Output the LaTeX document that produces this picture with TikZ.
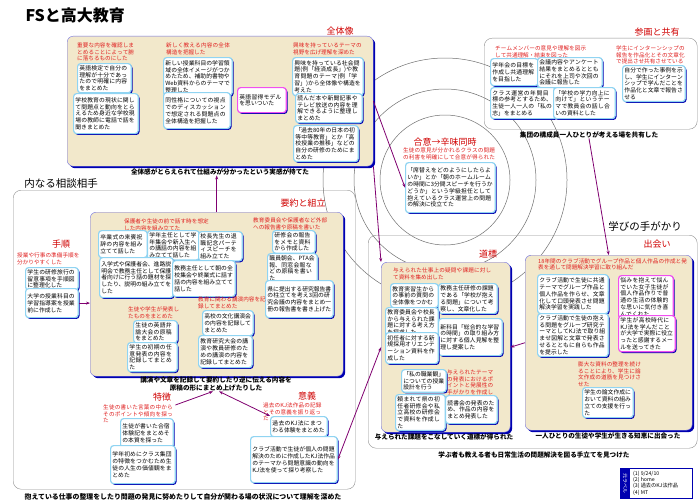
\documentclass[tikz,border=0pt]{standalone}
\usepackage{fontspec}
\setmainfont{Noto Sans CJK JP}
\usetikzlibrary{arrows.meta, shadows}
\XeTeXlinebreaklocale "ja"
\XeTeXlinebreakskip=0pt plus 1pt

\definecolor{beige}{HTML}{F2E8CB}
\definecolor{groupedge}{HTML}{7070E0}
\definecolor{shadowblue}{HTML}{0000B0}
\definecolor{cardedge}{HTML}{90D4F2}
\definecolor{pinkedge}{HTML}{F050F0}
\definecolor{notered}{HTML}{E02020}
\definecolor{headred}{HTML}{D00000}
\definecolor{linkpurple}{HTML}{800070}
\definecolor{framegray}{HTML}{909090}
\definecolor{ringgray}{HTML}{707070}

\newcommand\cardfont{\fontsize{5.8}{6.8}\selectfont}
\newcommand\notefont{\fontsize{5.6}{6.4}\selectfont}
\newcommand\headfont{\fontsize{9}{10}\selectfont}
\newcommand\capfont{\fontsize{10.5}{12}\selectfont}
\newcommand\sumfont{\fontsize{6.6}{8}\selectfont\bfseries}
\newcommand\titlefont{\fontsize{16}{18}\selectfont\bfseries}

\begin{document}
\begin{tikzpicture}[x=1pt,y=-1pt,
    card/.style={draw=cardedge, line width=1.2pt, fill=white, rounded corners=3pt,
        inner sep=1.8pt, anchor=north west, align=left, font=\cardfont,
        drop shadow={shadow xshift=1.3pt, shadow yshift=-1.3pt, fill=shadowblue, opacity=1}},
    pinkcard/.style={card, draw=pinkedge},
    note/.style={text=notered, anchor=north west, align=left, inner sep=0pt, font=\notefont},
    heading/.style={text=headred, font=\headfont, inner sep=0pt},
    bigcaption/.style={font=\capfont, inner sep=0pt},
    summary/.style={font=\sumfont, inner sep=0pt, align=center},
    group/.style={draw=groupedge, fill=beige, rounded corners=6pt, anchor=north west, inner sep=0pt,
        drop shadow={shadow xshift=2pt, shadow yshift=-2pt, fill=shadowblue, opacity=1}},
    frame/.style={draw=framegray, rounded corners=8pt, anchor=north west, inner sep=0pt},
    link/.style={draw=linkpurple, line width=0.8pt, -{Stealth[length=4pt]}},
    ring/.style={draw=ringgray, line width=0.5pt}
]

\fill[white] (0,0) rectangle (700,503);
\useasboundingbox (0,0) rectangle (700,503);

\node[anchor=west, font=\titlefont] (title) at (22,15) {FSと高大教育};

% rings
\foreach \r in {65,91,122}
    \draw[ring] (445,180) circle[radius=\r pt];

% =========================
% frames
% =========================
\node[frame, minimum width=213pt, minimum height=91pt] (share) at (484,38) {};
\node[heading] (sharehead) at (657,32) {参画と共有};
\node[summary] (sharesum) at (589,135) {集団の構成員一人ひとりが考える場を共有した};

\node[frame, minimum width=342pt, minimum height=299pt] (inner) at (13,190) {};
\node[bigcaption] (innerhead) at (61,184) {内なる相談相手};
\node[summary, font=\fontsize{6.9}{8}\selectfont\bfseries] (innersum) at (183,497) {抱えている仕事の整理をしたり問題の発見に努めたりして自分が関わる場の状況について理解を深めた};

\node[frame, minimum width=329pt, minimum height=213pt] (learn) at (368,235) {};
\node[bigcaption] (learnhead) at (645,226) {学びの手がかり};
\node[summary] (learnsum) at (534,455) {学ぶ者も教える者も日常生活の問題解決を図る手立てを見つけた};

% =========================
% 全体像
% =========================
\node[group, minimum width=306pt, minimum height=130pt] (whole) at (67,36) {};
\node[heading] (wholehead) at (340,31) {全体像};
\node[summary] (wholesum) at (220,172) {全体感がとらえられて仕組みが分かったという実感が持てた};

\node[note, text width=58pt] (n1) at (77,43) {重要な内容を確認しまとめることによって腑に落ちるものにした};
\node[card, text width=50pt, minimum height=29pt] (a1) at (77,63) {英語検定で自分の理解が十分であったので明確に内容をまとめた};
\node[card, text width=61pt, minimum height=40pt] (a2) at (73,93) {学校教育の現状に関して問題点と動向をとらえるため身近な学校現場の教師に電話で話を聞きまとめた};

\node[note, text width=66pt] (n2) at (166,43) {新しく教える内容の全体構造を把握した};
\node[card, text width=65pt, minimum height=38pt] (b1) at (163,57) {新しい授業科目の学習領域の全体イメージがつかめたため、補助的書物やWeb資料からのテーマで整理した};
\node[card, text width=63pt, minimum height=36pt] (b2) at (163,92) {同性格についての視点でのディスカッションで想定される問題点の全体構造を把握した};

\node[pinkcard, text width=45pt, minimum height=25pt] (p1) at (237,87) {英語習得モデルを思いついた};

\node[note, text width=70pt] (n3) at (293,43) {興味を持っているテーマの視野を広げ理解を深めた};
\node[card, text width=67pt, minimum height=38pt] (c1) at (292,57) {興味を持っている社会問題(例「経済成長」)や教育問題のテーマ(例「学習」)から全体像や構造を考えた};
\node[card, text width=63pt, minimum height=29pt] (c2) at (295,93) {読んだ本や新聞記事やテレビ放送の内容を理解できるように整理しまとめた};
\node[card, text width=61pt, minimum height=35pt] (c3) at (293,125) {「過去80年の日本の初等中等教育」とか「高校授業の推移」などの自分の研修のためにまとめた};

% =========================
% 参画と共有
% =========================
\node[note, text width=92pt] (n4) at (495,46) {チームメンバーの意見や理解を図示して共通理解・結束を図った};
\node[card, text width=44pt, minimum height=27pt] (d1) at (490,58) {学年会の目標を作成し共通理解を目指した};
\node[card, text width=61pt, minimum height=30pt] (d2) at (537,57) {会議内容やアンケート結果をまとめるとともにそれを上司や次回の会議に報告した};
\node[card, text width=62pt, minimum height=31pt] (d3) at (490,87) {クラス運営の年間目標の参考とするため、生徒一人一人の「私の志」をまとめる};
\node[card, text width=58pt, minimum height=31pt] (d4) at (553,87) {「学校の学力向上に向けて」というテーマで教員会の話し合いの資料とした};
\node[note, text width=70pt] (n5) at (616,46) {学生にインターンシップの報告を作品化とその文章化で提出させ共有させている};
\node[card, text width=59pt, minimum height=35pt] (e1) at (622,65) {自分で作った事例を示し、学生にインターンシップで学んだことを作品化と文章で報告させる};

% =========================
% 合意
% =========================
\node[heading] (agreehead) at (445,142) {合意→辛味同時};
\node[note, text width=95pt, align=center, anchor=north] (n6) at (449,148) {生徒の意見が分かれるクラスの問題の利害を明確にして合意が得られた};
\node[card, text width=86pt, minimum height=50pt] (f1) at (405,162) {「席替えをどのようにしたらよいか」とか「朝のホームルームの時間に3分間スピーチを行うかどうか」という学級担任として抱えているクラス運営上の問題の解決に役立てた};

% =========================
% 要約と組立
% =========================
\node[group, minimum width=253pt, minimum height=164pt] (sum) at (90,212) {};
\node[heading] (sumhead) at (303,203) {要約と組立};
\node[summary] (sumsum) at (216,384) {講演や文章を記録して要約したり逆に伝える内容を\\原稿の形にまとめ上げたりした};

\node[note, text width=85pt] (n7) at (124,219) {保護者や生徒の前で話す時を想定した内容を組み立てた};
\node[card, text width=45pt, minimum height=27pt] (ga) at (98,230) {卒業式の来賓祝辞の内容を組み立てて話した};
\node[card, text width=48pt, minimum height=28pt] (gb) at (147,230) {学年主任として学年集会や新入生への講話の内容を組み立てて話した};
\node[card, text width=40pt, minimum height=26pt] (gc) at (198,231) {校長先生の退職記念パーティスピーチを組み立てた};
\node[card, text width=70pt, minimum height=40pt] (gd) at (99,257) {入学式や保護者会、進路説明会で教務主任として保護者向けに行う話の題材を探したり、説明の組み立てをした};
\node[card, text width=59pt, minimum height=36pt] (ge) at (172,260) {教務主任として朝の全校集会や終業式に話す話の内容を組み立てて話した};

\node[note, text width=75pt] (n8) at (253,218) {教育委員会や保護者など外部への報告書や原稿を書いた};
\node[card, text width=39pt, minimum height=22pt] (gf) at (272,230) {研修会の報告をメモと資料から作成した};
\node[card, text width=46pt, minimum height=25pt] (gg) at (267,253) {職員朝会、PTA会報、同窓会報などの原稿を書いた};
\node[card, text width=64pt, minimum height=37pt] (gh) at (265,280) {県に提出する研究報告書の柱立てを考え3回の研究会議の内容をまとめ一冊の報告書を書き上げた};

\node[note, text width=68pt] (n9) at (198,297) {教育に関わる講演内容を記録してまとめた};
\node[card, text width=47pt, minimum height=25pt] (gi) at (202,310) {高校の文化講演会の内容を記録してまとめた};
\node[card, text width=50pt, minimum height=32pt] (gj) at (198,335) {教育研究大会の講演や教員研修のための講演の内容を記録してまとめた};

\node[note, text width=52pt] (n10) at (128,307) {生徒や学生が発表したものをまとめた};
\node[card, text width=40pt, minimum height=21pt] (gk) at (133,320) {生徒の英語弁論大会の原稿をまとめた};
\node[card, text width=46pt, minimum height=24pt] (gl) at (127,342) {学生の初期の任意発表の内容を記録してまとめた};

% =========================
% 手順
% =========================
\node[heading] (stephead) at (61,244) {手順};
\node[note, text width=63pt] (n11) at (17,253) {授業や行事の準備手順を分かりやすくした};
\node[card, text width=49pt, minimum height=22pt] (ha) at (25,267) {学生の研修旅行の留意事項を手順図に整理化した};
\node[card, text width=49pt, minimum height=29pt] (hb) at (25,288) {大学の授業科目の学習指導案を授業前に作成した};

% =========================
% 特徴
% =========================
\node[heading] (traithead) at (162,397) {特徴};
\node[note, text width=72pt] (n12) at (103,405) {生徒の書いた言葉の中からそのポイントや傾向を探った};
\node[card, text width=49pt, minimum height=29pt] (ia) at (120,418) {生徒が書いた合宿体験記をまとめその本質を探った};
\node[card, text width=61pt, minimum height=38pt] (ib) at (110,445) {学年初めにクラス集団の特徴をつかむため生徒の人生の価値観をまとめた};

% =========================
% 意義
% =========================
\node[heading] (meanhead) at (307,396) {意義};
\node[note, text width=60pt] (n13) at (263,403) {過去のKJ法作品の記録とその意義を振り返った};
\node[card, text width=53pt, minimum height=20pt] (ja) at (270,416) {過去のKJ法にまつわる体験をまとめた};
\node[card, text width=83pt, minimum height=46pt] (jb) at (250,436) {クラブ活動で生徒が個人の問題解決のために作成したKJ法作品のテーマから問題意識の動向をKJ法を使って探り考察した};

% =========================
% 道標
% =========================
\node[group, minimum width=129pt, minimum height=170pt] (road) at (381,262) {};
\node[heading] (roadhead) at (488,254) {道標};
\node[summary] (roadsum) at (444,437) {与えられた課題をこなしていく道標が得られた};

\node[note, text width=100pt] (n14) at (393,268) {与えられた仕事上の疑問や課題に対して資料を集め出した};
\node[card, text width=44pt, minimum height=24pt] (ka) at (390,283) {教育実習生からの事前の質問の全体像をつかむ};
\node[card, text width=55pt, minimum height=30pt] (kb) at (438,283) {教務主任研修の課題である「学校が抱える問題」について考察し、文章化した};
\node[card, text width=49pt, minimum height=28pt] (kc) at (385,307) {教育委員会や校長から与えられた課題に対する考え方を探求した};
\node[card, text width=60pt, minimum height=37pt] (kd) at (438,318) {新科目「総合的な学習の時間」の取り組み方に対する個人見解を整理し提案した};
\node[card, text width=49pt, minimum height=31pt] (ke) at (385,332) {初任者に対する新規採用オリエンテーション資料を作成した};
\node[card, text width=41pt, minimum height=22pt] (kf) at (401,369) {「私の職業観」についての授業設計を行う};
\node[note, text width=48pt] (n15) at (447,370) {与えられたテーマの発表におけるポイントと発展性の手がかりを作成した};
\node[card, text width=46pt, minimum height=30pt] (kg) at (395,394) {頼まれて県の初任者研修会や私立高校の研修会で資料を作成した};
\node[card, text width=48pt, minimum height=28pt] (kh) at (445,395) {読書会の発表のため、作品の内容をまとめ発表した};

% =========================
% 出会い
% =========================
\node[group, minimum width=167pt, minimum height=175pt] (meet) at (525,255) {};
\node[heading] (meethead) at (657,244) {出会い};
\node[summary] (meetsum) at (608,436) {一人ひとりの生徒や学生が生きる知恵に出会った};

\node[note, text width=150pt] (n16) at (538,258) {18年間のクラブ活動でグループ作品と個人作品の作成と発表を通して問題解決学習に取り組んだ};
\node[card, text width=67pt, minimum height=39pt] (la) at (537,274) {クラブ活動で生徒に共通テーマでグループ作品と個人作品を作らせ、文章化して口頭発表させ問題解決学習を実践した};
\node[card, text width=67pt, minimum height=42pt] (lb) at (537,313) {クラブ活動で生徒の抱える問題をグループ研究テーマとしてKJ法で取り組ませ図解と文章で発表させるとともに自らも作品を提示した};
\node[pinkcard, text width=51pt, minimum height=38pt] (lc) at (618,275) {悩みを抱えて悩んでいた女子生徒が個人作品作りで普通の生活の体験的な思いに気付き喜んでくれた};
\node[pinkcard, text width=53pt, minimum height=35pt] (ld) at (618,315) {学生が高校時代にKJ法を学んだことが大学で実際に役立ったと感謝するメールを送ってきた};
\node[note, text width=64pt] (n17) at (578,362) {膨大な資料の整理を続けることにより、学生に論文作成の道筋を見つけさせた};
\node[card, text width=47pt, minimum height=30pt] (le) at (582,387) {学生の論文作成において資料の組み立ての支援を行った};

% legend
\node[draw=shadowblue, line width=1pt, anchor=north west, inner sep=0pt,
    minimum width=72pt, minimum height=30pt] (legend) at (620,468) {};
\fill[shadowblue] (legend.north west) rectangle ([xshift=10pt]legend.south west);
\node[rotate=-90, text=white, font=\fontsize{5}{5}\selectfont, inner sep=0pt] (legendtag)
    at ([xshift=5pt]legend.west) {元ラベル};
\node[anchor=north west, align=left, inner sep=0pt, font=\fontsize{5.2}{6.2}\selectfont] (legendtext)
    at (633,471) {(1) 9/24/10\\(2) home\\(3) 過去のKJ法作品\\(4) MT};

% =========================
% links
% =========================
\draw[link] (sum.north) -- (sum.north |- wholesum.south);
\draw[link] (whole.east) -- (f1.west);
\draw[link] (whole.south east) -- (road.north west);
\draw[link] (sharesum.south) -- (meet.north);
\draw[link] (meet.west) -- (road.east);
\draw[link, {Stealth[length=4pt]}-{Stealth[length=4pt]}] (jb.east) -- (road.west);
\draw[link] (hb.east) -- (hb.east -| sum.west);
\draw[link] (n12.north east) -- ([xshift=-3pt]sumsum.south);
\draw[link, {Stealth[length=4pt]}-{Stealth[length=4pt]}] ([xshift=3pt]sumsum.south) -- (ja.north west);

\end{tikzpicture}
\end{document}
